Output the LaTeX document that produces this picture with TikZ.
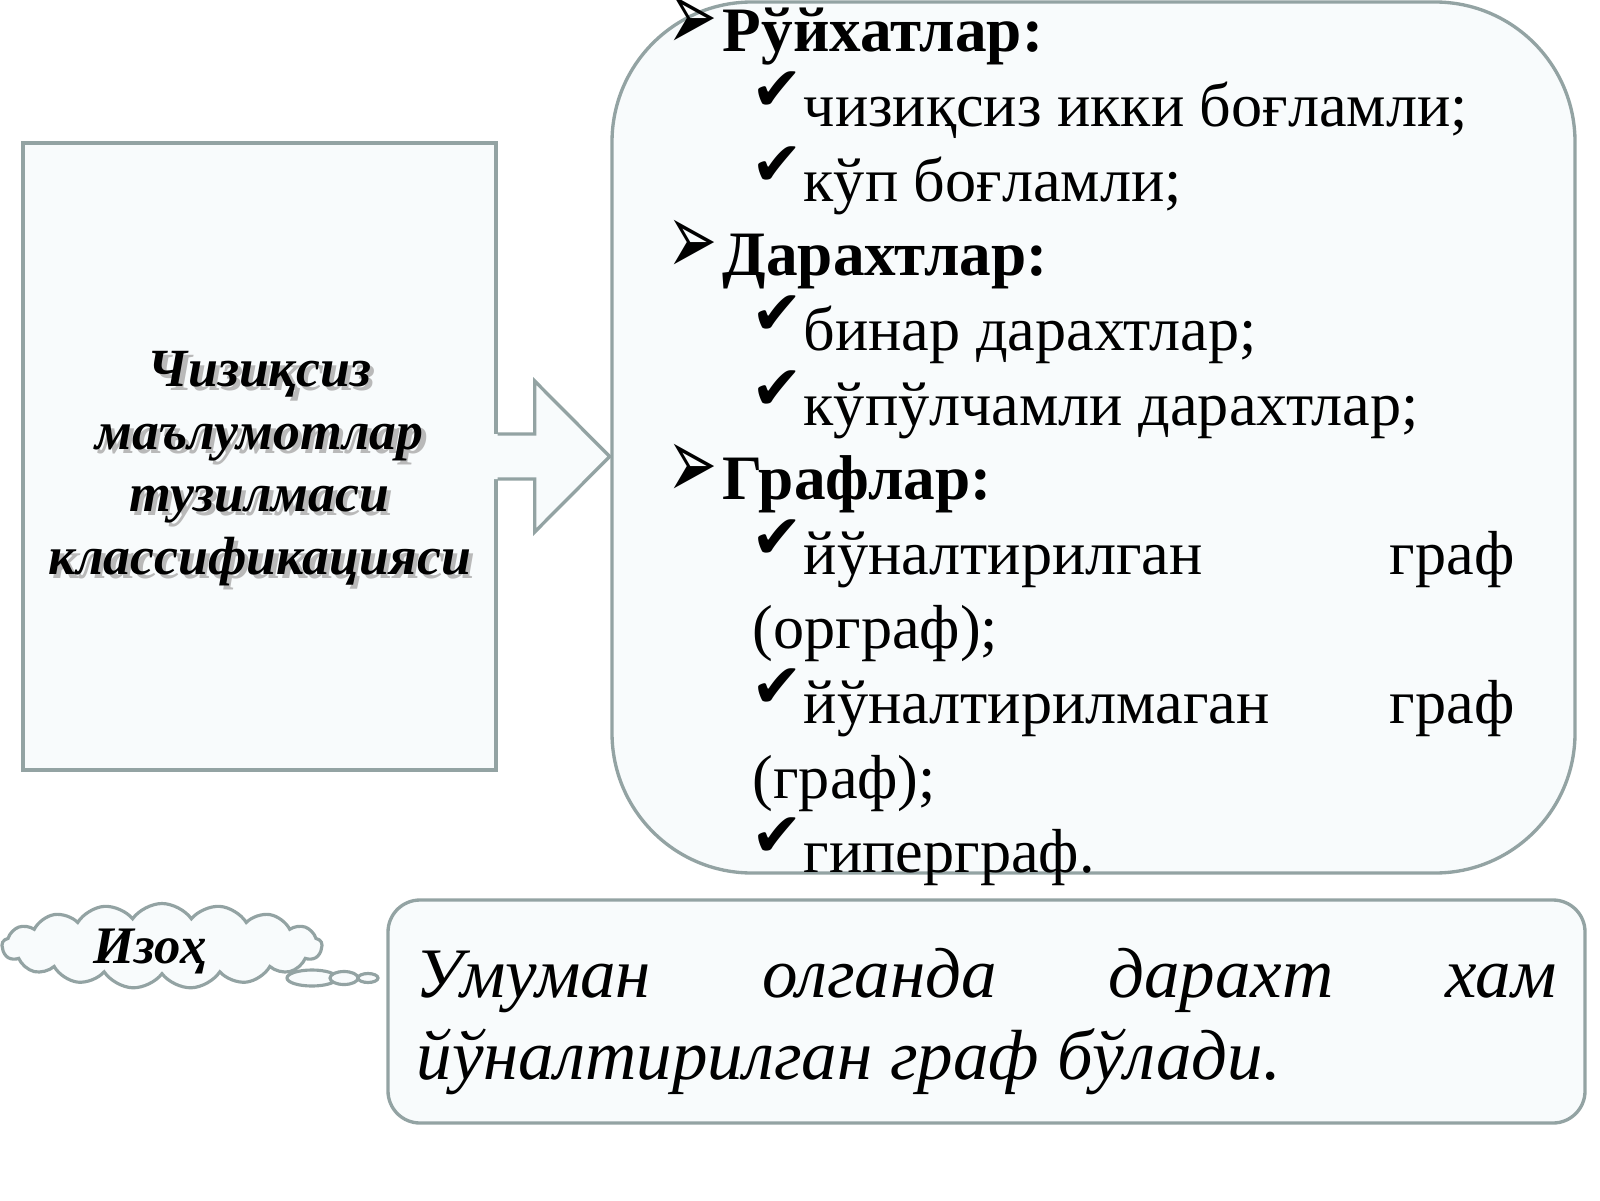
\documentclass[tikz,border=0pt]{standalone}
\usepackage{fontspec}
\setmainfont{Liberation Serif}
\newfontfamily\symfont{DejaVu Sans}
\usetikzlibrary{shapes.symbols}
\definecolor{edgegray}{HTML}{93A3A3}
\definecolor{boxfill}{HTML}{F8FBFC}
\newcommand{\hdbul}{\makebox[0.55cm][l]{\raisebox{0.3pt}{\symfont\fontsize{20}{20}\selectfont\scalebox{0.85}[1.45]{➢}}}}
\newcommand{\chk}{\makebox[0.52cm][l]{\raisebox{4.5pt}{\symfont\fontsize{17.5}{17.5}\selectfont ✔}}}

\begin{document}
\begin{tikzpicture}
        [every node/.style={inner sep=0pt},
         frame/.style={draw=edgegray,line width=0.95pt,fill=boxfill},
         item/.style={anchor=base west,font=\fontsize{17.7}{21}\selectfont},
         head/.style={anchor=base west,font=\fontsize{18}{21}\selectfont\bfseries},
         cls/.style={align=center,font=\fontsize{15.3}{17.8}\selectfont\bfseries\itshape},
         note/.style={anchor=base west,font=\fontsize{20.2}{24}\selectfont\itshape}]
        \useasboundingbox (0,0) rectangle (16,12);
        \node[frame,minimum width=4.73cm,minimum height=6.27cm] (cls) at (2.595,7.435) {};
        \node[frame,rounded corners=1.4cm,minimum width=9.63cm,minimum height=8.71cm] (lst) at (10.935,7.625) {};
        \node[frame,rounded corners=0.32cm,minimum width=11.97cm,minimum height=2.23cm] (nt) at (9.865,1.885) {};

        \path[fill=boxfill] ([xshift=-1.5pt,yshift=0.225cm]cls.east) -- ++(0.42,0) -- ++(0,0.53) -- ++(0.75,-0.755)
            -- ++(-0.75,-0.755) -- ++(0,0.53) -- ++(-0.42,0) -- cycle;
        \draw[edgegray,line width=0.95pt] ([yshift=0.225cm]cls.east) -- ++(0.37,0) -- ++(0,0.53) -- ++(0.75,-0.755)
            -- ++(-0.75,-0.755) -- ++(0,0.53) -- ++(-0.37,0);

        \node[cls,text=gray!55,xshift=1.2pt,yshift=-1.2pt] at ([yshift=-0.12cm]cls) {Чизиқсиз\\маълумотлар\\тузилмаси\\классификацияси};
        \node[cls] (clst) at ([yshift=-0.12cm]cls) {Чизиқсиз\\маълумотлар\\тузилмаси\\классификацияси};

        \node[head] (h1) at (6.67,11.48) {\hdbul Рўйхатлар:};
        \node[item] (i1) at (7.51,10.734) {\chk чизиқсиз икки боғламли;};
        \node[item] (i2) at (7.51,9.988) {\chk кўп боғламли;};
        \node[head] (h2) at (6.67,9.242) {\hdbul Дарахтлар:};
        \node[item] (i3) at (7.51,8.496) {\chk бинар дарахтлар;};
        \node[item] (i4) at (7.51,7.75) {\chk кўпўлчамли дарахтлар;};
        \node[head] (h3) at (6.67,7.004) {\hdbul Графлар:};
        \node[item] (i5) at (7.51,6.258) {\chk йўналтирилган};
        \node[item,anchor=base east] (i5b) at (15.15,6.258) {граф};
        \node[item] (i5c) at (7.52,5.512) {(орграф);};
        \node[item] (i6) at (7.51,4.766) {\chk йўналтирилмаган};
        \node[item,anchor=base east] (i6b) at (15.15,4.766) {граф};
        \node[item] (i6c) at (7.52,4.02) {(граф);};
        \node[item] (i7) at (7.51,3.274) {\chk гиперграф.};

        \node[cloud,cloud puffs=17,cloud puff arc=110,aspect=3.5,draw=edgegray,fill=boxfill,line width=0.9pt,
              minimum width=3.2cm,minimum height=0.85cm] (izh) at (1.62,2.54) {};
        \foreach \x/\rx/\ry in {3.12/0.25/0.08, 3.44/0.14/0.065, 3.68/0.10/0.045}
            \draw[edgegray,fill=boxfill,line width=0.9pt] (\x,2.22) ellipse (\rx cm and \ry cm);
        \node[font=\fontsize{15}{18}\selectfont\bfseries\itshape] (izht) at (1.50,2.49) {Изоҳ};

        \node[note] (n1) at (4.15,2.03) {\makebox[11.41cm][s]{Умуман олганда дарахт хам}};
        \node[note] (n2) at (4.16,1.21) {йўналтирилган граф бўлади.};
    \end{tikzpicture}
\end{document}
